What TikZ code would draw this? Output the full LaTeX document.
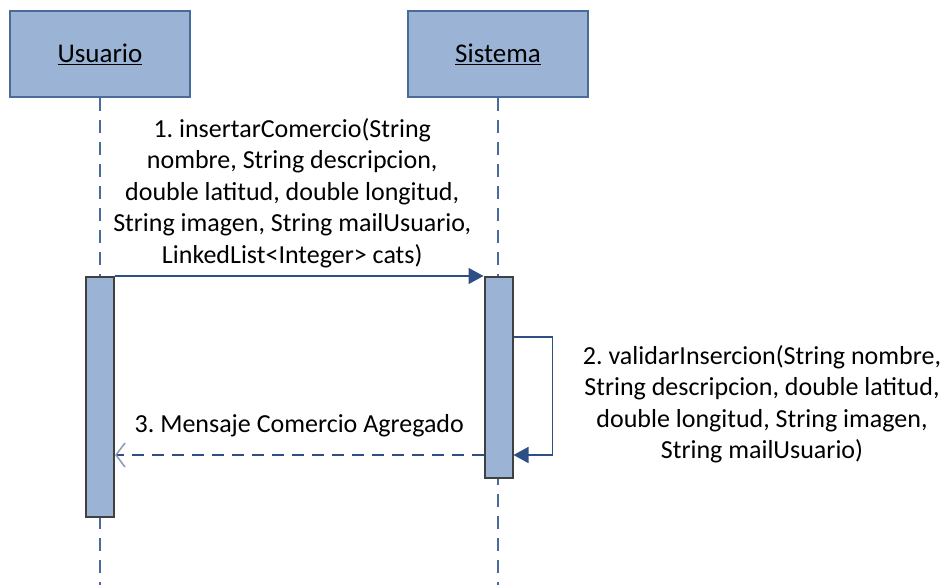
\documentclass[tikz,border=0pt]{standalone}
\usepackage{fontspec}
\setmainfont{Carlito}
\usetikzlibrary{arrows.meta,positioning}
\frenchspacing

\definecolor{boxfill}{HTML}{9BB3D4}
\definecolor{boxline}{HTML}{4A6A9A}
\definecolor{msgline}{HTML}{2E4F86}
\definecolor{replyhead}{HTML}{8A9AB8}

\begin{document}
\begin{tikzpicture}[x=1pt, y=-1pt, font=\fontsize{26}{31.5}\selectfont,
    head/.style = {draw=boxline, fill=boxfill, line width=1.5pt, minimum width=180pt, minimum height=86pt},
    bar/.style = {draw=black!75, fill=boxfill, line width=2pt, minimum width=28pt, inner sep=0pt},
    life/.style = {draw=boxline, line width=1.5pt, dash pattern=on 13pt off 9pt},
    call/.style = {draw=msgline, line width=1.5pt, -{Triangle[length=15pt,width=16pt]}},
    reply/.style = {draw=msgline, line width=1.5pt, dash pattern=on 12pt off 8pt,
        -{Straight Barb[length=9pt,width=24pt,color=replyhead,line width=1.5pt]}}]

    \useasboundingbox (0,0) rectangle (948,585);

    % cabeceras
    \node[head] (usuario) at (100,54) {\fontsize{27}{32}\selectfont\underline{Usuario}};
    \node[head] (sistema) at (498,54) {\fontsize{27}{32}\selectfont\underline{Sistema}};

    % lineas de vida
    \coordinate (endU) at (100,585);
    \coordinate (endS) at (498,585);
    \draw[life] (usuario.south) -- (endU);
    \draw[life] (sistema.south) -- (endS);

    % activaciones
    \node[bar, minimum height=240pt] (barU) at (100,397) {};
    \node[bar, minimum height=201pt] (barS) at (498.5,377.5) {};

    % mensajes
    \draw[call] (barU.north east) -- (barS.north west)
        node[midway, above=4pt, xshift=-7pt, align=center] (msg1)
        {1. insertarComercio(String\\nombre, String descripcion,\\double latitud, double longitud,\\String imagen, String mailUsuario,\\LinkedList<Integer> cats)};

    \coordinate (selfTop) at (0,337);
    \coordinate (selfBot) at (0,455);
    \draw[call] (barS.east |- selfTop) -- ++(39,0) |- (barS.east |- selfBot);
    \node[align=center] (msg2) at (762,404)
        {2. validarInsercion(String nombre,\\String descripcion, double latitud,\\double longitud, String imagen,\\String mailUsuario)};

    \draw[reply] (barS.west |- selfBot) -- (barU.east |- selfBot)
        node[midway, above=14pt] (msg3) {3. Mensaje Comercio Agregado};
\end{tikzpicture}
\end{document}
